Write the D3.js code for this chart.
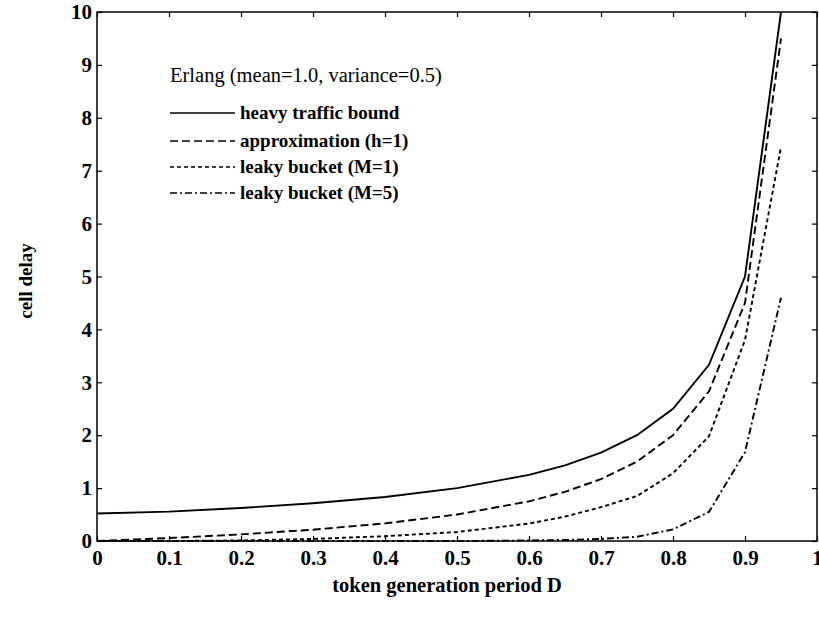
<!DOCTYPE html>
<html><head><meta charset="utf-8">
<script src="https://cdn.jsdelivr.net/npm/d3@7"></script>
<style>body{margin:0;background:#fff}svg{display:block}</style>
</head><body><svg id="c" width="819" height="617"></svg>
<script>
const xValues = [0, 0.1, 0.2, 0.3, 0.4, 0.5, 0.6, 0.65, 0.7, 0.75, 0.8, 0.85, 0.9, 0.95];
const heavyTraffic = [0.52, 0.556, 0.625, 0.714, 0.833, 1.0, 1.25, 1.43, 1.67, 2.0, 2.5, 3.33, 5.0, 10.0];
const approximation = [0, 0.056, 0.125, 0.214, 0.333, 0.5, 0.75, 0.93, 1.17, 1.5, 2.0, 2.83, 4.5, 9.5];
const leakyM1 = [0, 0, 0.01, 0.04, 0.09, 0.17, 0.33, 0.46, 0.64, 0.85, 1.28, 1.98, 3.8, 7.45];
const leakyM5 = [0, 0, 0, 0, 0, 0, 0.01, 0.02, 0.04, 0.08, 0.22, 0.55, 1.68, 4.6];
const xTicks = [0, 0.1, 0.2, 0.3, 0.4, 0.5, 0.6, 0.7, 0.8, 0.9, 1];
const yTicks = [0, 1, 2, 3, 4, 5, 6, 7, 8, 9, 10];
const seriesNames = ["heavy traffic bound", "approximation (h=1)", "leaky bucket (M=1)", "leaky bucket (M=5)"];
const dashes = [null, "8,4", "4,3", "7,3,2,3"];
const seriesData = [heavyTraffic, approximation, leakyM1, leakyM5];

const svg = d3.select("#c");
const L = 97, R = 817, T = 12, B = 541;
const x = d3.scaleLinear().domain([0, 1]).range([L, R]);
const y = d3.scaleLinear().domain([0, 10]).range([B, T]);
const font = "'Liberation Serif', 'Times New Roman', serif";

svg.append("rect").attr("x", L).attr("y", T).attr("width", R - L).attr("height", B - T)
  .attr("fill", "none").attr("stroke", "#000").attr("stroke-width", 1.5);

const ax = svg.append("g").attr("transform", `translate(0,${B})`)
  .call(d3.axisBottom(x).tickValues(xTicks).tickSizeInner(-5).tickSizeOuter(0).tickPadding(9)
    .tickFormat(d => d === 0 ? "0" : d === 1 ? "1" : d3.format(".1f")(d)));
const axT = svg.append("g").attr("transform", `translate(0,${T})`)
  .call(d3.axisTop(x).tickValues(xTicks).tickSizeInner(-5).tickSizeOuter(0).tickFormat(""));
const ay = svg.append("g").attr("transform", `translate(${L},0)`)
  .call(d3.axisLeft(y).tickValues(yTicks).tickSizeInner(-5).tickSizeOuter(0).tickPadding(5).tickFormat(d3.format("d")));
const ayR = svg.append("g").attr("transform", `translate(${R},0)`)
  .call(d3.axisRight(y).tickValues(yTicks).tickSizeInner(-5).tickSizeOuter(0).tickFormat(""));
[ax, axT, ay, ayR].forEach(g => {
  g.select(".domain").remove();
  g.selectAll(".tick line").attr("stroke", "#000").attr("stroke-width", 1.2);
  g.selectAll("text").attr("font-family", font).attr("font-weight", "bold").attr("font-size", 21).attr("fill", "#000");
});
ax.selectAll(".tick text").attr("dy", "0.71em");

const line = d3.line().x((d, i) => x(xValues[i])).y(d => y(d));
seriesData.forEach((s, k) => {
  svg.append("path").datum(s).attr("d", line).attr("fill", "none").attr("stroke", "#000")
    .attr("stroke-width", 1.9).attr("stroke-dasharray", dashes[k]);
});

svg.append("text").attr("x", 170).attr("y", 82).attr("font-family", font).attr("font-size", 20.5)
  .text("Erlang (mean=1.0, variance=0.5)");
const legendY = [113, 141, 167, 193];
seriesNames.forEach((n, k) => {
  const yy = legendY[k];
  svg.append("line").attr("x1", 170).attr("x2", 235).attr("y1", yy).attr("y2", yy)
    .attr("stroke", "#000").attr("stroke-width", 1.6).attr("stroke-dasharray", dashes[k]);
  svg.append("text").attr("x", 240).attr("y", yy + 6).attr("font-family", font).attr("font-weight", "bold")
    .attr("font-size", 19).text(n);
});

svg.append("text").attr("x", 447).attr("y", 592).attr("text-anchor", "middle").attr("font-family", font)
  .attr("font-weight", "bold").attr("font-size", 20.5).text("token generation period D");
svg.append("text").attr("transform", "translate(32,281) rotate(-90)").attr("text-anchor", "middle")
  .attr("font-family", font).attr("font-weight", "bold").attr("font-size", 19).text("cell delay");
</script></body></html>
